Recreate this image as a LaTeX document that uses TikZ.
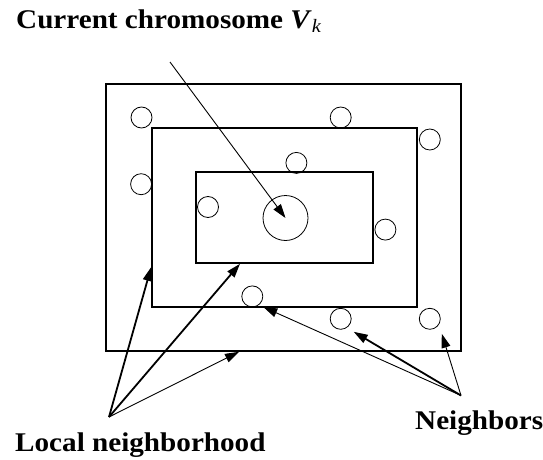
\documentclass[tikz,border=0pt]{standalone}
\usepackage{fontspec}
\setmainfont{Liberation Serif}
\usetikzlibrary{arrows.meta,positioning}
\newcommand{\wide}[1]{\scalebox{1.08}[1]{#1}}
\tikzset{
  nbr/.style={
    inner sep = 0pt,
    shape = circle,
    minimum size = 21pt,
    draw,
    line width = 0.8pt
  },
  box/.style={
    inner sep = 0pt,
    shape = rectangle,
    draw,
    line width = 1.6pt
  },
  lbl/.style={
    font = \fontsize{27}{31}\selectfont\bfseries,
    inner sep = 0pt,
    anchor = base west
  },
  ptr/.style={
    -{Triangle[length=14pt,width=9pt]},
    line width = 0.9pt
  },
  ptrthick/.style={
    ptr,
    line width = 1.8pt
  }
}
\begin{document}
\begin{tikzpicture}[x=1pt,y=-1pt]
    \useasboundingbox (0,0) rectangle (543,460);
    \def\cy{217.5}
    % nested neighbourhoods
    \node[box, minimum width=355pt, minimum height=267pt] (outer) at (283.5,\cy) {};
    \node[box, minimum width=265pt, minimum height=179pt] (mid) at (284.5,\cy) {};
    \node[box, minimum width=177pt, minimum height=91pt] (inner) at (284.5,\cy) {};
    % current chromosome and neighbours
    \node[nbr, minimum size=45pt] (vk) at (285.5,218) {};
    \foreach \n/\x/\y in {1/141.5/117.5, 2/340.7/117.5, 3/429.8/139.5,
        4/296.4/162.9, 5/141.1/184.2, 6/208/207, 7/385.4/229.6,
        8/252.3/296.4, 9/340.7/318.8, 10/429.8/318.8}{
        \node[nbr] (n\n) at (\x,\y) {};
    }
    % labels
    \node[lbl] (cur) at (16,28.3) {\wide{Current chromosome \textit{V}\textsubscript{\textit{\mdseries k}}}};
    \node[lbl] (loc) at (15,451.7) {\wide{Local neighborhood}};
    \node[lbl] (nbs) at (415,429.3) {\wide{Neighbors}};
    \coordinate (cursrc) at (170,62);
    \coordinate (locsrc) at (109,417);
    \coordinate (nbssrc) at (461,395.5);
    % arrows
    \draw[ptr] (cursrc) -- (vk.center);
    \draw[ptrthick] (locsrc) -- ([shift={(0,49.5)}]mid.west);
    \draw[ptrthick] (locsrc) -- ([shift={(-44.5,0)}]inner.south);
    \draw[ptr] (locsrc) -- ([shift={(-44.5,0)}]outer.south);
    \draw[ptr] (nbssrc) -- ([shift={(11,10.6)}]n8.center);
    \draw[ptrthick] (nbssrc) -- ([shift={(13,13)}]n9.center);
    \draw[ptr] (nbssrc) -- ([shift={(12,15)}]n10.center);
\end{tikzpicture}
\end{document}
